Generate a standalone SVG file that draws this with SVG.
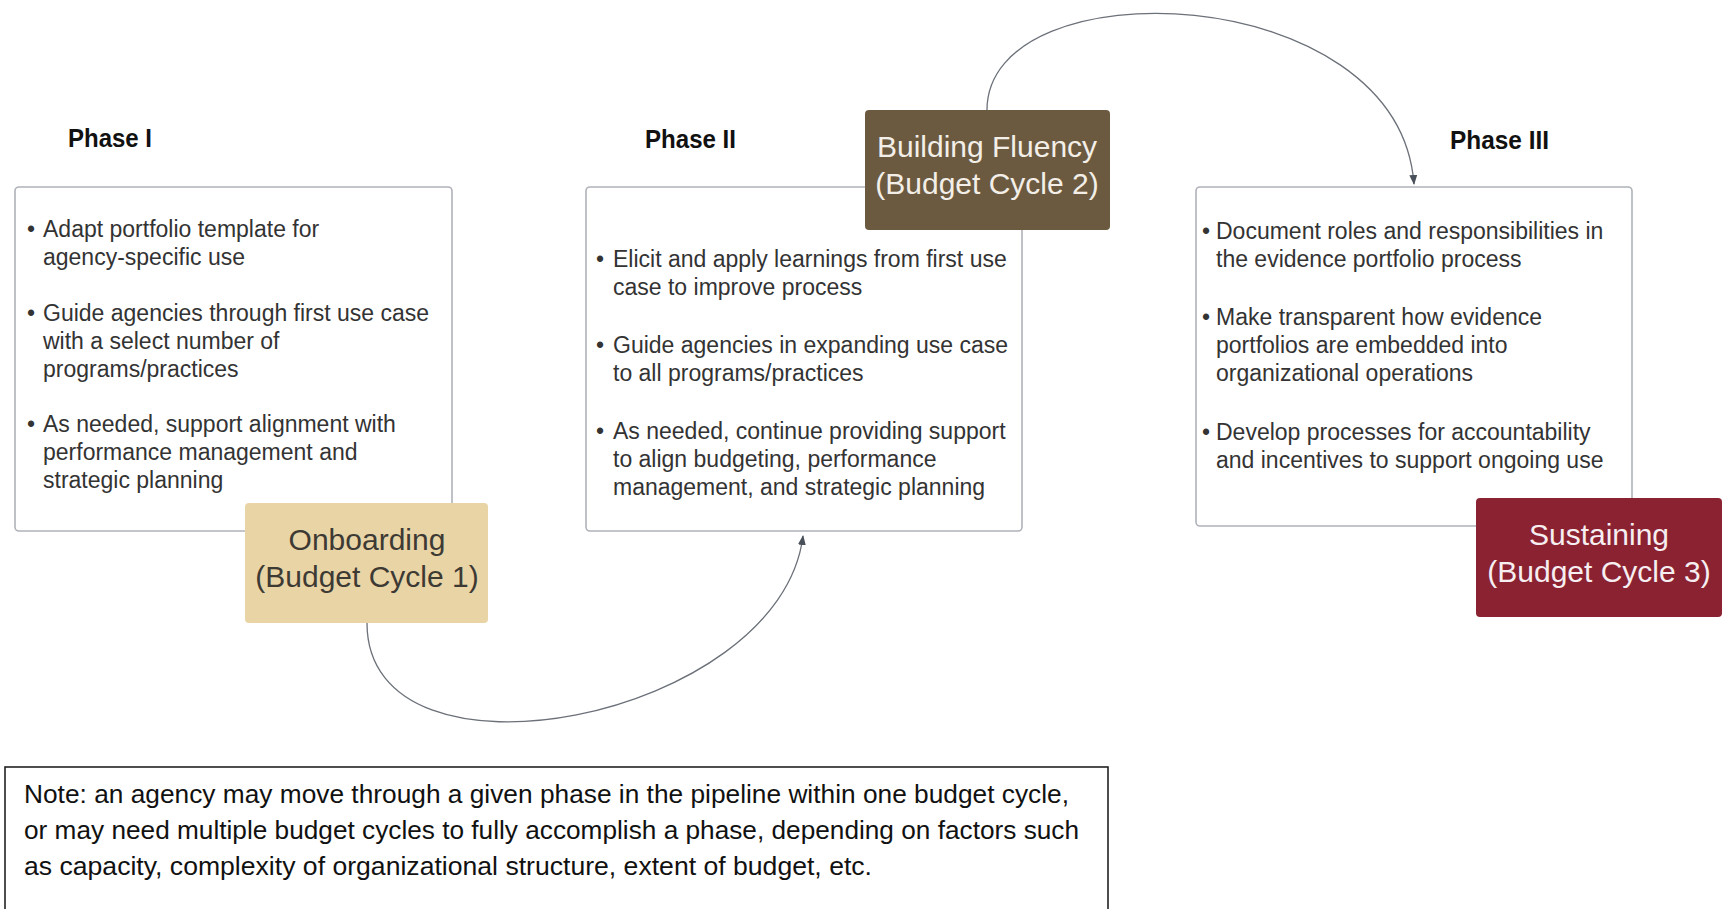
<svg xmlns="http://www.w3.org/2000/svg" width="1725" height="909" viewBox="0 0 1725 909">
<style>
.title{font-family:"Liberation Sans",Arial,sans-serif;font-weight:bold;font-size:26px;fill:#111}
.box{fill:#fff;stroke:#aeb2b8;stroke-width:1.6}
.bt{font-family:"Liberation Sans",Arial,sans-serif;font-size:23px;fill:#333}
.nt{font-family:"Liberation Sans",Arial,sans-serif;font-size:30px;text-anchor:middle}
.conn{fill:none;stroke:#6b7079;stroke-width:1.3}
.note{font-family:"Liberation Sans",Arial,sans-serif;font-size:26px;fill:#111}
</style>
<defs>
<marker id="arr" viewBox="0 0 10 10" refX="9" refY="5" markerWidth="10" markerHeight="10" markerUnits="userSpaceOnUse" orient="auto">
<path d="M0,1 L10,5 L0,9 z" fill="#4a505a"/>
</marker>
</defs>
<rect width="1725" height="909" fill="#fff"/>

<g id="connectors">
<path class="conn" d="M367,623 C367,800 780,720 803,536" marker-end="url(#arr)"/>
<path class="conn" d="M987,110 C987,-35 1398,-22 1414,184" marker-end="url(#arr)"/>
</g>

<g id="phase1">
<text class="title" x="68" y="147" textLength="84" lengthAdjust="spacingAndGlyphs">Phase I</text>
<rect class="box" x="15" y="187" width="437" height="344" rx="4"/>
<g class="bt">
<text x="27" y="237">•</text><text x="43" y="237">Adapt portfolio template for</text><text x="43" y="265">agency-specific use</text>
<text x="27" y="321">•</text><text x="43" y="321">Guide agencies through first use case</text><text x="43" y="349">with a select number of</text><text x="43" y="377">programs/practices</text>
<text x="27" y="432">•</text><text x="43" y="432">As needed, support alignment with</text><text x="43" y="460">performance management and</text><text x="43" y="488">strategic planning</text>
</g>
</g>

<g id="onboarding">
<rect x="245" y="503" width="243" height="120" rx="4" fill="#e9d4a6"/>
<text class="nt" x="367" y="550" fill="#3d3a34">Onboarding</text>
<text class="nt" x="367" y="587" fill="#3d3a34">(Budget Cycle 1)</text>
</g>

<g id="phase2">
<text class="title" x="645" y="148" textLength="91" lengthAdjust="spacingAndGlyphs">Phase II</text>
<rect class="box" x="586" y="187" width="436" height="344" rx="4"/>
<g class="bt">
<text x="596" y="267">•</text><text x="613" y="267">Elicit and apply learnings from first use</text><text x="613" y="295">case to improve process</text>
<text x="596" y="353">•</text><text x="613" y="353">Guide agencies in expanding use case</text><text x="613" y="381">to all programs/practices</text>
<text x="596" y="439">•</text><text x="613" y="439">As needed, continue providing support</text><text x="613" y="467">to align budgeting, performance</text><text x="613" y="495">management, and strategic planning</text>
</g>
</g>

<g id="building-fluency">
<rect x="865" y="110" width="245" height="120" rx="4" fill="#6c5a40"/>
<text class="nt" x="987" y="157" fill="#f3efe8">Building Fluency</text>
<text class="nt" x="987" y="194" fill="#f3efe8">(Budget Cycle 2)</text>
</g>

<g id="phase3">
<text class="title" x="1450" y="149" textLength="99" lengthAdjust="spacingAndGlyphs">Phase III</text>
<rect class="box" x="1196" y="187" width="436" height="339" rx="4"/>
<g class="bt">
<text x="1202" y="239">•</text><text x="1216" y="239">Document roles and responsibilities in</text><text x="1216" y="267">the evidence portfolio process</text>
<text x="1202" y="325">•</text><text x="1216" y="325">Make transparent how evidence</text><text x="1216" y="353">portfolios are embedded into</text><text x="1216" y="381">organizational operations</text>
<text x="1202" y="440">•</text><text x="1216" y="440">Develop processes for accountability</text><text x="1216" y="468">and incentives to support ongoing use</text>
</g>
</g>

<g id="sustaining">
<rect x="1476" y="498" width="246" height="119" rx="4" fill="#8a2232"/>
<text class="nt" x="1599" y="545" fill="#f6eef0">Sustaining</text>
<text class="nt" x="1599" y="582" fill="#f6eef0">(Budget Cycle 3)</text>
</g>

<g id="note">
<rect x="5" y="767" width="1103" height="160" fill="#fff" stroke="#222" stroke-width="1.6"/>
<text class="note" x="24" y="803" textLength="1045" lengthAdjust="spacingAndGlyphs">Note: an agency may move through a given phase in the pipeline within one budget cycle,</text>
<text class="note" x="24" y="839" textLength="1055" lengthAdjust="spacingAndGlyphs">or may need multiple budget cycles to fully accomplish a phase, depending on factors such</text>
<text class="note" x="24" y="875" textLength="848" lengthAdjust="spacingAndGlyphs">as capacity, complexity of organizational structure, extent of budget, etc.</text>
</g>
</svg>
